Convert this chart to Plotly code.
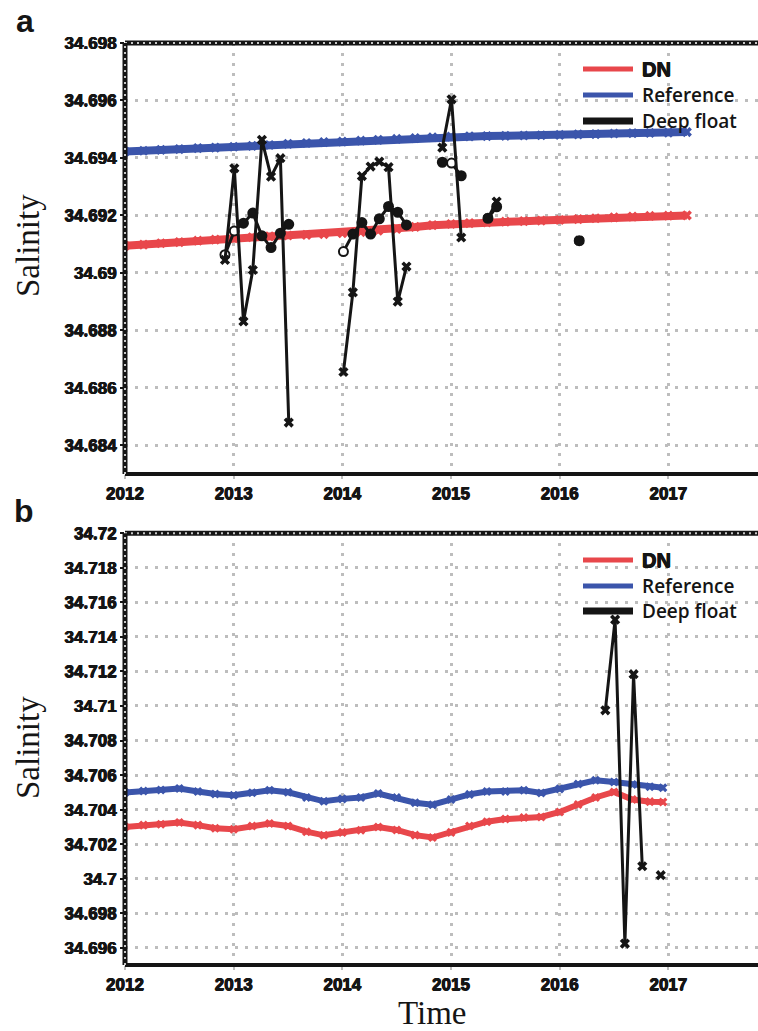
import plotly.graph_objects as go

# ---------------- data ----------------
# Panel a : bimonthly sample times (decimal years)
t_a = [2012.0, 2012.17, 2012.33, 2012.5, 2012.67, 2012.83,
       2013.0, 2013.17, 2013.33, 2013.5, 2013.67, 2013.83,
       2014.0, 2014.17, 2014.33, 2014.5, 2014.67, 2014.83,
       2015.0, 2015.17, 2015.33, 2015.5, 2015.67, 2015.83,
       2016.0, 2016.17, 2016.33, 2016.5, 2016.67, 2016.83,
       2017.0, 2017.17]
dn_a = [34.69094, 34.69098, 34.69103, 34.69107, 34.69112, 34.69116,
        34.69121, 34.69124, 34.69127, 34.69130, 34.69132, 34.69135,
        34.69138, 34.69142, 34.69147, 34.69153, 34.69160, 34.69166,
        34.69170, 34.69173, 34.69176, 34.69178, 34.69180, 34.69182,
        34.69184, 34.69187, 34.69190, 34.69193, 34.69196, 34.69198,
        34.69199, 34.69200]
ref_a = [34.69422, 34.69425, 34.69428, 34.69431, 34.69434, 34.69436,
         34.69439, 34.69442, 34.69445, 34.69449, 34.69452, 34.69455,
         34.69457, 34.69460, 34.69463, 34.69466, 34.69469, 34.69472,
         34.69474, 34.69475, 34.69476, 34.69477, 34.69478, 34.69479,
         34.69480, 34.69482, 34.69483, 34.69485, 34.69486, 34.69487,
         34.69488, 34.69490]

# Deep float (panel a) - cross-marked profile
t_fx = [2012.92, 2013.006, 2013.09, 2013.176, 2013.26, 2013.344, 2013.43, 2013.507, None,
        2014.01, 2014.097, 2014.18, 2014.26, 2014.34, 2014.425, 2014.51, 2014.59, None,
        2014.92, 2015.005, 2015.094, None, 2015.34, 2015.42, None, 2016.18]
s_fx = [34.69045, 34.69364, 34.68831, 34.69010, 34.69463, 34.69335, 34.69399, 34.68479, None,
        34.68655, 34.68932, 34.69337, 34.69370, 34.69387, 34.69368, 34.68900, 34.69022, None,
        34.69436, 34.69604, 34.69123, None, 34.69190, 34.69248, None, 34.69112]
# Deep float (panel a) - circle-marked profile
t_fo = [2012.92, 2013.006, 2013.09, 2013.176, 2013.26, 2013.344, 2013.43, 2013.507, None,
        2014.01, 2014.097, 2014.18, 2014.26, 2014.34, 2014.425, 2014.51, 2014.59, None,
        2014.92, 2015.005, 2015.094, None, 2015.34, 2015.42, None, 2016.18]
s_fo = [34.69063, 34.69146, 34.69173, 34.69208, 34.69129, 34.69088, 34.69138, 34.69169, None,
        34.69074, 34.69135, 34.69175, 34.69135, 34.69188, 34.69231, 34.69211, 34.69167, None,
        34.69385, 34.69382, 34.69338, None, 34.69190, 34.69230, None, 34.69112]
open_fo = [0, 1, 9, 19]

# Panel b
t_b = [2012.0, 2012.17, 2012.33, 2012.5, 2012.67, 2012.83,
       2013.0, 2013.17, 2013.33, 2013.5, 2013.67, 2013.83,
       2014.0, 2014.17, 2014.33, 2014.5, 2014.67, 2014.83,
       2015.0, 2015.17, 2015.33, 2015.5, 2015.67, 2015.83,
       2016.0, 2016.17, 2016.33, 2016.5, 2016.67, 2016.83,
       2016.95]
ref_b = [34.70499, 34.70508, 34.70513, 34.70522, 34.70505, 34.70490,
         34.70483, 34.70498, 34.70512, 34.70500, 34.70470, 34.70448,
         34.70462, 34.70470, 34.70493, 34.70470, 34.70440, 34.70428,
         34.70458, 34.70488, 34.70505, 34.70505, 34.70512, 34.70496,
         34.70520, 34.70548, 34.70570, 34.70560, 34.70545, 34.70532,
         34.70527]
dn_b = [34.70299, 34.70310, 34.70315, 34.70325, 34.70310, 34.70292,
        34.70286, 34.70305, 34.70319, 34.70305, 34.70272, 34.70251,
        34.70268, 34.70280, 34.70299, 34.70282, 34.70252, 34.70238,
        34.70268, 34.70305, 34.70330, 34.70345, 34.70354, 34.70357,
        34.70386, 34.70430, 34.70470, 34.70502, 34.70458, 34.70446,
        34.70444]
t_fb = [2016.42, 2016.51, 2016.60, 2016.68, 2016.76, None, 2016.93]
s_fb = [34.70975, 34.71500, 34.69624, 34.71184, 34.70072, None, 34.70020]

x_ticks = [2012, 2013, 2014, 2015, 2016, 2017]
x_labels = ["2012", "2013", "2014", "2015", "2016", "2017"]
ya_ticks = [34.684, 34.686, 34.688, 34.69, 34.692, 34.694, 34.696, 34.698]
ya_labels = ["34.684", "34.686", "34.688", "34.69", "34.692", "34.694", "34.696", "34.698"]
yb_ticks = [34.696, 34.698, 34.7, 34.702, 34.704, 34.706, 34.708, 34.71,
            34.712, 34.714, 34.716, 34.718, 34.72]
yb_labels = ["34.696", "34.698", "34.7", "34.702", "34.704", "34.706", "34.708", "34.71",
             "34.712", "34.714", "34.716", "34.718", "34.72"]
legend_names = ["DN", "Reference", "Deep float"]

# ---------------- style ----------------
RED = "#e8474b"
BLUE = "#3b55ab"
BLACK = "#151515"
GRID = "#bdbdbd"
W, H = 758, 1031
HEAVY = "0.5px 0 0 #151515, -0.5px 0 0 #151515, 0 0.5px 0 #151515"

fig = go.Figure()

def band(x, y, color, xa, ya, width, msize):
    fig.add_trace(go.Scatter(x=x, y=y, mode="lines+markers", xaxis=xa, yaxis=ya,
                             line=dict(color=color, width=width),
                             marker=dict(symbol="x", size=msize, color=color),
                             showlegend=False, hoverinfo="skip"))

# panel a
band(t_a, dn_a, RED, "x", "y", 8, 9)
band(t_a, ref_a, BLUE, "x", "y", 8, 9)
fig.add_trace(go.Scatter(x=t_fo, y=s_fo, mode="lines+markers", xaxis="x", yaxis="y",
                         line=dict(color=BLACK, width=3),
                         marker=dict(symbol="circle", size=9,
                                     color=["white" if i in open_fo else BLACK for i in range(len(s_fo))],
                                     line=dict(color=BLACK, width=2)),
                         showlegend=False, hoverinfo="skip"))
fig.add_trace(go.Scatter(x=t_fx, y=s_fx, mode="lines+markers", xaxis="x", yaxis="y",
                         line=dict(color=BLACK, width=3),
                         marker=dict(symbol="x", size=9, color=BLACK),
                         showlegend=False, hoverinfo="skip"))
# panel b
band(t_b, dn_b, RED, "x2", "y2", 6, 8)
band(t_b, ref_b, BLUE, "x2", "y2", 6, 8)
fig.add_trace(go.Scatter(x=t_fb, y=s_fb, mode="lines+markers", xaxis="x2", yaxis="y2",
                         line=dict(color=BLACK, width=3),
                         marker=dict(symbol="x", size=9, color=BLACK),
                         showlegend=False, hoverinfo="skip"))

tickfont = dict(family="Liberation Sans, Arial, sans-serif", size=17, color=BLACK,
                weight="bold", shadow=HEAVY)
x0 = 125 / W
doms = {"a": (1 - 474 / H, 1 - 43 / H), "b": (1 - 965 / H, 1 - 533.3 / H)}

common_x = dict(range=[2012, 2017.825], tickvals=x_ticks, ticktext=x_labels, tickfont=tickfont,
                showgrid=True, gridcolor=GRID, gridwidth=3, griddash="3px,7px",
                zeroline=False, showline=False, ticks="outside", ticklen=4, tickwidth=2,
                tickcolor=GRID, domain=[x0, 1], automargin=False)
common_y = dict(tickfont=tickfont, showgrid=True, gridcolor=GRID, gridwidth=3, griddash="3px,7px",
                zeroline=False, showline=False, ticks="outside", ticklen=4, tickwidth=2,
                tickcolor=BLACK, automargin=False)

fig.update_layout(
    width=W, height=H, margin=dict(l=0, r=0, t=0, b=0, autoexpand=False),
    paper_bgcolor="white", plot_bgcolor="white",
    xaxis=dict(**common_x, anchor="y"),
    yaxis=dict(**common_y, range=[34.683, 34.698], tickvals=ya_ticks, ticktext=ya_labels,
               domain=list(doms["a"]), anchor="x"),
    xaxis2=dict(**common_x, anchor="y2"),
    yaxis2=dict(**common_y, range=[34.695, 34.72], tickvals=yb_ticks, ticktext=yb_labels,
                domain=list(doms["b"]), anchor="x2"),
)

shapes = []
for xr, yr in [("x domain", "y domain"), ("x2 domain", "y2 domain")]:
    # bottom axis line
    shapes.append(dict(type="line", xref=xr, yref=yr, x0=0, x1=1, y0=0, y1=0,
                       line=dict(color=BLACK, width=4)))
    # top border (black with grey dots)
    shapes.append(dict(type="line", xref=xr, yref=yr, x0=0, x1=1, y0=1, y1=1,
                       line=dict(color=BLACK, width=5)))
    shapes.append(dict(type="line", xref=xr, yref=yr, x0=0, x1=1, y0=1, y1=1,
                       line=dict(color="#c8c8c8", width=2, dash="2px,4px")))
    # left axis (black with grey dots)
    shapes.append(dict(type="line", xref=xr, yref=yr, x0=0, x1=0, y0=0, y1=1,
                       line=dict(color=BLACK, width=5)))
    shapes.append(dict(type="line", xref=xr, yref=yr, x0=0, x1=0, y0=0, y1=1,
                       line=dict(color="#c8c8c8", width=2, dash="2px,4px")))

annotations = []
legend_rows = [[69, 95, 121], [560, 586, 611]]
legend_cols = [RED, BLUE, BLACK]
legend_w = [5, 5, 7]
for rows in legend_rows:
    for i, yy in enumerate(rows):
        shapes.append(dict(type="line", xref="paper", yref="paper",
                           x0=583 / W, x1=633 / W, y0=1 - yy / H, y1=1 - yy / H,
                           line=dict(color=legend_cols[i], width=legend_w[i])))
        if i == 0:
            f = dict(family="Liberation Sans, Arial, sans-serif", size=20, color=BLACK,
                     weight="bold", shadow=HEAVY)
        else:
            f = dict(family="Open Sans, Noto Sans, sans-serif", size=19, color=BLACK, weight=600)
        annotations.append(dict(x=640 / W, y=1 - yy / H, xref="paper", yref="paper",
                                text=legend_names[i], showarrow=False, xanchor="left",
                                yanchor="middle", font=f))

serif = dict(family="Liberation Serif, Times New Roman, serif", size=33, color=BLACK)
annotations += [
    dict(x=28 / W, y=1 - 246 / H, xref="paper", yref="paper", text="Salinity", textangle=-90,
         showarrow=False, font=serif, xanchor="center", yanchor="middle"),
    dict(x=28 / W, y=1 - 748 / H, xref="paper", yref="paper", text="Salinity", textangle=-90,
         showarrow=False, font=serif, xanchor="center", yanchor="middle"),
    dict(x=432 / W, y=1 - 1013 / H, xref="paper", yref="paper", text="Time",
         showarrow=False, font=serif, xanchor="center", yanchor="middle"),
    dict(x=25 / W, y=1 - 21 / H, xref="paper", yref="paper", text="<b>a</b>", showarrow=False,
         font=dict(family="Liberation Sans, Arial, sans-serif", size=32, color=BLACK),
         xanchor="center", yanchor="middle"),
    dict(x=24 / W, y=1 - 511 / H, xref="paper", yref="paper", text="<b>b</b>", showarrow=False,
         font=dict(family="Liberation Sans, Arial, sans-serif", size=32, color=BLACK),
         xanchor="center", yanchor="middle"),
]

fig.update_layout(shapes=shapes, annotations=annotations)
fig.write_html("out.html", config={"displayModeBar": False},
               post_script="document.body.style.margin='0';document.body.style.overflow='hidden';")
